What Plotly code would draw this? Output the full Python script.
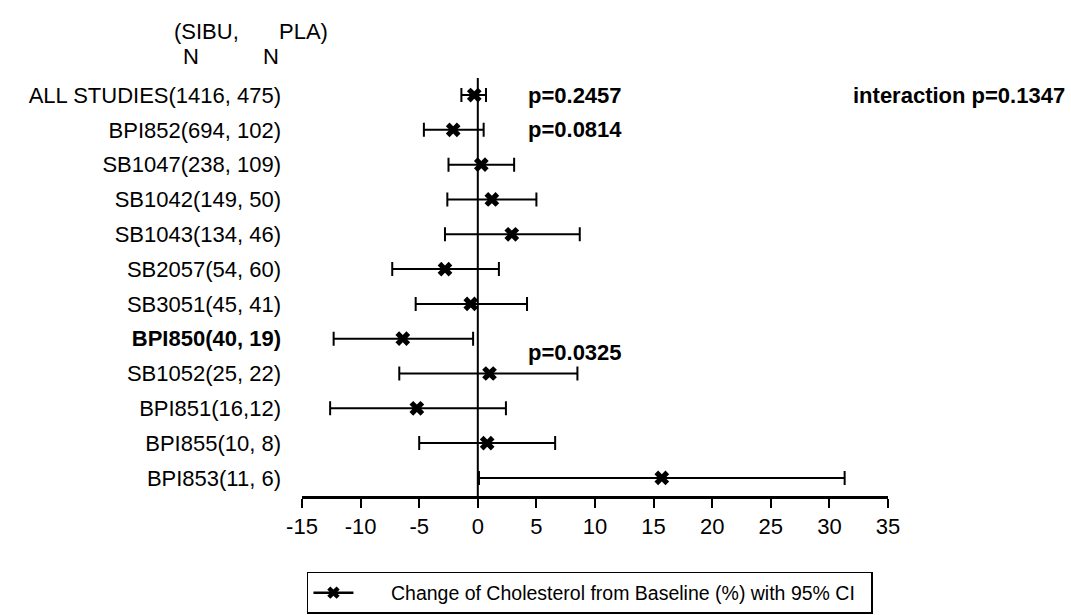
import plotly.graph_objects as go

studies = ["ALL STUDIES(1416, 475)", "BPI852(694, 102)", "SB1047(238, 109)", "SB1042(149, 50)",
           "SB1043(134, 46)", "SB2057(54, 60)", "SB3051(45, 41)", "<b>BPI850(40, 19)</b>",
           "SB1052(25, 22)", "BPI851(16,12)", "BPI855(10, 8)", "BPI853(11, 6)"]
estimate = [-0.3, -2.1, 0.3, 1.2, 2.9, -2.8, -0.6, -6.4, 1.0, -5.2, 0.8, 15.7]
ci_low = [-1.4, -4.6, -2.5, -2.6, -2.8, -7.3, -5.3, -12.3, -6.7, -12.6, -5.0, 0.1]
ci_high = [0.7, 0.5, 3.1, 5.0, 8.7, 1.8, 4.2, -0.4, 8.5, 2.4, 6.6, 31.3]
xticks = [-15, -10, -5, 0, 5, 10, 15, 20, 25, 30, 35]
legend_name = "Change of Cholesterol from Baseline (%) with 95% CI"

FONT = "Arial, Liberation Sans, sans-serif"

plus = [h - e for h, e in zip(ci_high, estimate)]
minus = [e - l for e, l in zip(estimate, ci_low)]

fig = go.Figure()
fig.add_trace(go.Scatter(
    x=estimate, y=studies, mode="markers", showlegend=False,
    marker=dict(symbol="x", size=13, color="black", line=dict(width=0)),
    error_x=dict(type="data", symmetric=False, array=plus, arrayminus=minus,
                 color="black", thickness=2, width=7),
))
fig.add_trace(go.Scatter(
    x=[None], y=[None], mode="lines+markers",
    name="\u00a0" * 6 + legend_name,
    marker=dict(symbol="x", size=11, color="black", line=dict(width=0)),
    line=dict(color="black", width=2.5),
))

fig.add_vline(x=0, line=dict(color="black", width=2))

ann = dict(font=dict(family=FONT, size=22, color="black"), showarrow=False)
fig.add_annotation(x=4.1, y=studies[0], text="<b>p=0.2457</b>", xanchor="left", **ann)
fig.add_annotation(x=4.1, y=studies[1], text="<b>p=0.0814</b>", xanchor="left", **ann)
fig.add_annotation(x=4.1, y=7.4, text="<b>p=0.0325</b>", xanchor="left", **ann)
fig.add_annotation(x=1.305, xref="paper", y=studies[0], text="<b>interaction p=0.1347</b>",
                   xanchor="right", **ann)
fig.add_annotation(x=-0.221, xref="paper", y=1.147, yref="paper", text="(SIBU,",
                   xanchor="left", **ann)
fig.add_annotation(x=-0.043, xref="paper", y=1.147, yref="paper", text="PLA)",
                   xanchor="left", **ann)
fig.add_annotation(x=-0.189, xref="paper", y=1.085, yref="paper", text="N",
                   xanchor="center", **ann)
fig.add_annotation(x=-0.053, xref="paper", y=1.085, yref="paper", text="N",
                   xanchor="center", **ann)

fig.update_layout(
    width=1071, height=615,
    margin=dict(l=302, r=183, t=78, b=119),
    paper_bgcolor="white", plot_bgcolor="white",
    font=dict(family=FONT, size=22, color="black"),
    xaxis=dict(range=[-15, 35], tickvals=xticks, ticktext=[str(t) for t in xticks],
               showline=True, linecolor="black", linewidth=2.5, ticks="outside",
               ticklen=9, tickwidth=2, tickcolor="black", showgrid=False, zeroline=False,
               tickfont=dict(size=22), fixedrange=True),
    yaxis=dict(type="category", categoryorder="array", categoryarray=studies,
               range=[11.52, -0.49], showline=False, showgrid=False, zeroline=False,
               ticks="", ticklabelstandoff=20, tickfont=dict(size=22)),
    legend=dict(xref="container", yref="container", x=0.2866, y=0.070,
                xanchor="left", yanchor="top", orientation="h",
                entrywidth=508, entrywidthmode="pixels", itemwidth=40,
                bordercolor="black", borderwidth=1.5, bgcolor="white",
                font=dict(size=19.5)),
)

fig.write_html("out.html")
